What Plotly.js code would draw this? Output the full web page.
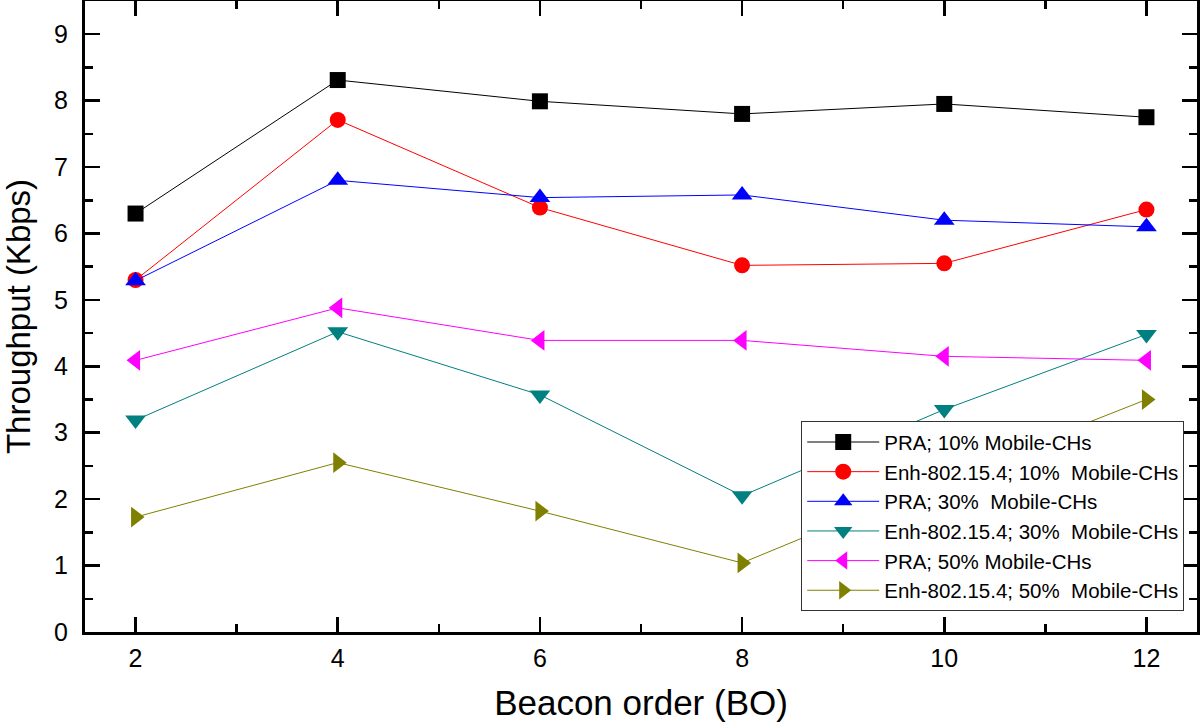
<!DOCTYPE html>
<html><head><meta charset="utf-8">
<script src="https://cdn.plot.ly/plotly-3.0.1.min.js"></script>
<style>html,body{margin:0;padding:0;background:#fff}#chart{width:1200px;height:723px}</style>
</head><body><div id="chart"></div>
<script>
var beaconOrder = [2, 4, 6, 8, 10, 12];
var pra10 = [6.30, 8.31, 7.99, 7.80, 7.95, 7.75];
var enh10 = [5.30, 7.71, 6.39, 5.52, 5.55, 6.36];
var pra30 = [5.29, 6.80, 6.54, 6.58, 6.20, 6.10];
var enh30 = [3.19, 4.52, 3.57, 2.05, 3.35, 4.48];
var pra50 = [4.09, 4.88, 4.39, 4.39, 4.15, 4.09];
var enh50 = [1.73, 2.55, 1.82, 1.04, 2.30, 3.50];
var seriesNames = ["PRA; 10% Mobile-CHs", "Enh-802.15.4; 10%  Mobile-CHs", "PRA; 30%  Mobile-CHs",
  "Enh-802.15.4; 30%  Mobile-CHs", "PRA; 50% Mobile-CHs", "Enh-802.15.4; 50%  Mobile-CHs"];
var seriesValues = [pra10, enh10, pra30, enh30, pra50, enh50];
var colors = ["#000000", "#ff0000", "#0000ff", "#008080", "#ff00ff", "#808000"];
var symbols = ["square", "circle", "triangle-up", "triangle-down", "triangle-left", "triangle-right"];
var sizes = [16, 16, 18, 18, 18, 18];

var traces = seriesValues.map(function (v, i) {
  return {x: beaconOrder, y: v, name: seriesNames[i], type: "scatter", mode: "lines+markers",
    line: {color: colors[i], width: 1}, marker: {color: colors[i], symbol: symbols[i], size: sizes[i]}};
});
var font = "Arial, 'Liberation Sans', sans-serif";
var layout = {
  width: 1200, height: 723,
  margin: {l: 85, r: 3, t: 1, b: 91},
  paper_bgcolor: "#fff", plot_bgcolor: "#fff",
  font: {family: font, color: "#000"},
  showlegend: true,
  legend: {x: 0.9885, xanchor: "right", y: 0.033, yanchor: "bottom", bgcolor: "#fff",
    bordercolor: "#333", borderwidth: 1, font: {size: 20.5, family: font}, tracegroupgap: 0,
    itemwidth: 72},
  xaxis: {range: [1.5, 12.5], tickvals: beaconOrder, ticktext: beaconOrder.map(String),
    showgrid: false, zeroline: false, showline: true, linecolor: "#000", linewidth: 3,
    mirror: "allticks", ticks: "inside", ticklen: 15, tickwidth: 2.5, tickcolor: "#000",
    minor: {ticks: "inside", dtick: 1, ticklen: 8, tickwidth: 2.5, tickcolor: "#000", showgrid: false},
    tickfont: {size: 25}, ticklabelstandoff: 2,
    title: {text: "Beacon order (BO)", font: {size: 35}, standoff: 20}},
  yaxis: {range: [0, 9.5], dtick: 1, tick0: 0,
    showgrid: false, zeroline: false, showline: true, linecolor: "#000", linewidth: 3,
    mirror: "allticks", ticks: "inside", ticklen: 15, tickwidth: 2.5, tickcolor: "#000",
    minor: {ticks: "inside", dtick: 0.5, ticklen: 8, tickwidth: 2.5, tickcolor: "#000", showgrid: false},
    tickfont: {size: 25}, ticklabelstandoff: 9,
    title: {text: "Throughput (Kbps)", font: {size: 33}, standoff: 18}}
};
Plotly.newPlot("chart", traces, layout, {displayModeBar: false, staticPlot: true});
</script></body></html>
